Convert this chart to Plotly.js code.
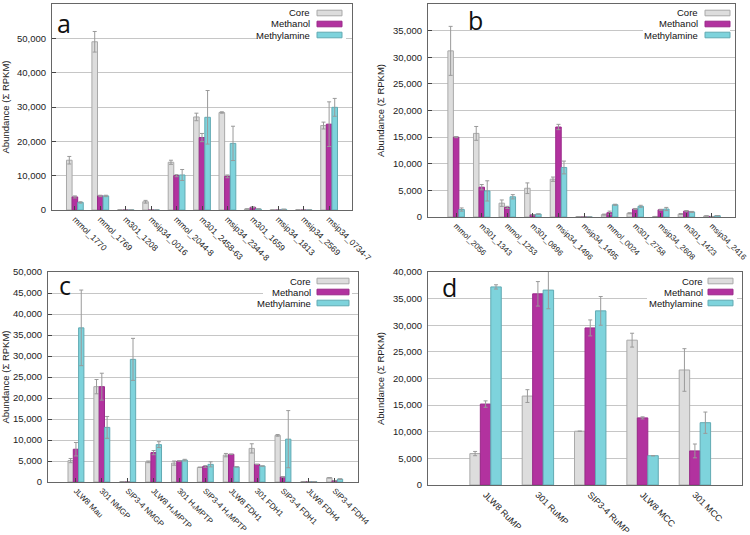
<!DOCTYPE html>
<html>
<head>
<meta charset="utf-8">
<script src="https://cdn.plot.ly/plotly-3.0.1.min.js"></script>
<style>html,body{margin:0;padding:0;background:#fff}#chart{width:750px;height:535px}</style>
</head>
<body>
<div id="chart"></div>
<script>
// ---------- Data ----------
const seriesNames = ['Core', 'Methanol', 'Methylamine'];

const catsA = ['mmol_1770','mmol_1769','m301_1208','msip34_0016','mmol_2044-8','m301_2458-63','msip34_2344-8','m301_1659','msip34_1813','msip34_2569','msip34_0734-7'];
const coreA    = [14500, 49000, 0, 2400, 13900, 27100, 28400, 300, 0, 0, 24600];
const coreAerr = [1100, 3000, 0, 400, 600, 1100, 200, 0, 0, 0, 1000];
const methA    = [3800, 4100, 0, 0, 10000, 21100, 9800, 800, 0, 0, 25000];
const methAerr = [300, 200, 0, 0, 300, 1200, 400, 100, 0, 0, 6500];
const mamA     = [2200, 4100, 0, 0, 10200, 27000, 19400, 300, 200, 0, 29900];
const mamAerr  = [200, 200, 0, 0, 1600, 7800, 5000, 0, 0, 0, 2600];

const catsB = ['mmol_2056','m301_1343','mmol_1253','m301_0896','msip34_1496','msip34_1495','mmol_0024','m301_2758','msip34_2608','m301_1423','msip34_2416'];
const coreB    = [31200, 15700, 2600, 5400, 7100, 50, 450, 700, 100, 550, 200];
const coreBerr = [4600, 1300, 600, 1000, 400, 0, 100, 100, 0, 100, 0];
const methB    = [15000, 5600, 1800, 400, 16900, 0, 800, 1500, 1350, 1100, 100];
const methBerr = [100, 500, 200, 0, 500, 0, 300, 100, 100, 100, 0];
const mamB     = [1400, 4900, 3800, 550, 9300, 0, 2300, 2000, 1500, 950, 250];
const mamBerr  = [300, 1900, 400, 0, 1200, 0, 100, 200, 300, 100, 0];

const catsC = ['JLW8 Mau','301 NMGP','SIP3-4 NMGP','JLW8 H\u2084MPTP','301 H\u2084MPTP','SIP3-4 H\u2084MPTP','JLW8 FDH1','301 FDH1','SIP3-4 FDH1','JLW8 FDH4','SIP3-4 FDH4'];
const coreC    = [5100, 22700, 100, 4800, 4500, 3500, 6400, 8000, 11100, 100, 1000];
const coreCerr = [500, 1700, 0, 200, 500, 0, 400, 1100, 200, 0, 0];
const methC    = [7800, 22700, 0, 7000, 5000, 3700, 6600, 4200, 1200, 100, 300];
const methCerr = [1600, 3200, 0, 500, 0, 200, 0, 0, 0, 0, 0];
const mamC     = [36700, 13000, 29200, 8900, 5200, 4200, 3600, 3800, 10200, 100, 700];
const mamCerr  = [9000, 2600, 5000, 700, 200, 600, 0, 0, 6800, 0, 0];

const catsD = ['JLW8 RuMP','301 RuMP','SIP3-4 RuMP','JLW8 MCC','301 MCC'];
const coreD    = [5900, 16700, 10100, 27200, 21600];
const coreDerr = [400, 1200, 0, 1300, 4000];
const methD    = [15200, 35900, 29500, 12600, 6400];
const methDerr = [600, 2300, 1500, 200, 1300];
const mamD     = [37200, 36600, 32700, 5500, 11700];
const mamDerr  = [400, 3500, 2700, 0, 2000];

const panelLetters = ['a', 'b', 'c', 'd'];
const yTitle = 'Abundance (Σ RPKM)';

// ---------- Styles ----------
const W = 750, H = 535;
const fills = ['#dddddd', '#b2329f', '#7ed3dc'];
const edges = ['#a9a9a9', '#9a2a8a', '#62aab3'];
const FONT = 'Liberation Sans, Arial, Helvetica, sans-serif';

// pixel boxes of each plot area
const boxes = [
  {l: 52,  r: 352, t: 4,   b: 210, range: [-0.9, 10.9],  w: 0.22, ymax: 60000, dtick: 10000, cats: catsA, fs: 8.5},
  {l: 428, r: 735, t: 4,   b: 217, range: [-1.1, 10.9], w: 0.215, ymax: 40000, dtick: 5000, cats: catsB, fs: 8},
  {l: 48,  r: 358, t: 272, b: 482, range: [-1.08, 10.9], w: 0.205, ymax: 50000, dtick: 5000, cats: catsC, fs: 8},
  {l: 428, r: 742, t: 272, b: 485, range: [-1.1, 4.9],   w: 0.2,  ymax: 40000, dtick: 5000, cats: catsD, fs: 9}
];
const panelData = [
  [[coreA, coreAerr], [methA, methAerr], [mamA, mamAerr]],
  [[coreB, coreBerr], [methB, methBerr], [mamB, mamBerr]],
  [[coreC, coreCerr], [methC, methCerr], [mamC, mamCerr]],
  [[coreD, coreDerr], [methD, methDerr], [mamD, mamDerr]]
];
// legend placement (pixels)
const legends = [
  {tr: 312, s0: 317, s1: 342, rows: [13, 24, 35],    bx0: 258, bx1: 346, by0: 6,   by1: 41},
  {tr: 700, s0: 705, s1: 730, rows: [13, 24, 35],    bx0: 643, bx1: 730, by0: 6,   by1: 40},
  {tr: 313, s0: 317, s1: 349, rows: [281, 292, 303], bx0: 263, bx1: 352, by0: 274, by1: 309},
  {tr: 705, s0: 708, s1: 733, rows: [281, 292, 303], bx0: 647, bx1: 737, by0: 274, by1: 309}
];
const letterPos = [[64, 23], [475, 20], [65, 285], [449, 287]];

const px2x = px => px / W;
const px2y = py => 1 - py / H;

const traces = [];
const layout = {
  width: W, height: H,
  margin: {l: 0, r: 0, t: 0, b: 0},
  paper_bgcolor: '#fff', plot_bgcolor: '#fff',
  showlegend: false,
  font: {family: FONT, size: 9.5, color: '#222'},
  shapes: [], annotations: []
};

boxes.forEach((bx, p) => {
  const sfx = p === 0 ? '' : String(p + 1);
  const xa = 'x' + sfx, ya = 'y' + sfx;

  layout['xaxis' + sfx] = {
    domain: [bx.l / W, bx.r / W], anchor: ya,
    type: 'category', range: bx.range,
    tickangle: 45, tickfont: {size: bx.fs, family: FONT, color: '#222'},
    ticks: p === 3 ? '' : 'inside', ticklen: 4, tickcolor: '#444',
    showline: true, linecolor: '#666', linewidth: 1, mirror: true,
    showgrid: false, zeroline: false, fixedrange: true
  };
  layout['yaxis' + sfx] = {
    domain: [1 - bx.b / H, 1 - bx.t / H], anchor: xa,
    range: [0, bx.ymax], dtick: bx.dtick, tickformat: ',d',
    tickfont: {size: 9.5, family: FONT, color: '#222'},
    ticks: p === 3 ? '' : 'inside', ticklen: 4, tickcolor: '#444',
    showline: true, linecolor: '#666', linewidth: 1, mirror: true,
    showgrid: true, gridcolor: '#c6c6c6', gridwidth: 1, zeroline: false,
    ticklabelstandoff: 3,
    title: {text: yTitle, font: {size: 9.5, family: FONT, color: '#222'}, standoff: 6},
    fixedrange: true
  };

  panelData[p].forEach((sd, s) => {
    traces.push({
      type: 'bar', name: seriesNames[s],
      x: bx.cats, y: sd[0],
      xaxis: xa, yaxis: ya,
      width: bx.w, offset: (s - 1.5) * bx.w,
      marker: {color: fills[s], line: {color: edges[s], width: 1}},
      error_y: {type: 'data', array: sd[1], visible: true, color: '#9a9a9a', thickness: 1, width: 2},
      hoverinfo: 'skip'
    });
  });

  // legend box (white, hiding the gridline behind the legend)
  const lg = legends[p];
  layout.shapes.push({
    type: 'rect', xref: 'paper', yref: 'paper', layer: 'above',
    x0: px2x(lg.bx0), x1: px2x(lg.bx1), y0: px2y(lg.by1), y1: px2y(lg.by0),
    fillcolor: '#ffffff', line: {width: 0}
  });
  seriesNames.forEach((nm, s) => {
    const yc = lg.rows[s];
    layout.annotations.push({
      xref: 'paper', yref: 'paper', x: px2x(lg.tr), y: px2y(yc),
      xanchor: 'right', yanchor: 'middle', showarrow: false,
      text: nm, font: {size: 9.5, family: FONT, color: '#111'}
    });
    layout.shapes.push({
      type: 'rect', xref: 'paper', yref: 'paper', layer: 'above',
      x0: px2x(lg.s0), x1: px2x(lg.s1), y0: px2y(yc + 2.8), y1: px2y(yc - 2.8),
      fillcolor: fills[s], line: {color: edges[s], width: 1}
    });
  });

  layout.annotations.push({
    xref: 'paper', yref: 'paper', x: px2x(letterPos[p][0]), y: px2y(letterPos[p][1]),
    xanchor: 'center', yanchor: 'middle', showarrow: false,
    text: panelLetters[p], font: {size: 25, family: 'Open Sans, Liberation Sans, sans-serif', color: '#111'}
  });
});

Plotly.newPlot('chart', traces, layout, {staticPlot: true, displayModeBar: false});
</script>
</body>
</html>
